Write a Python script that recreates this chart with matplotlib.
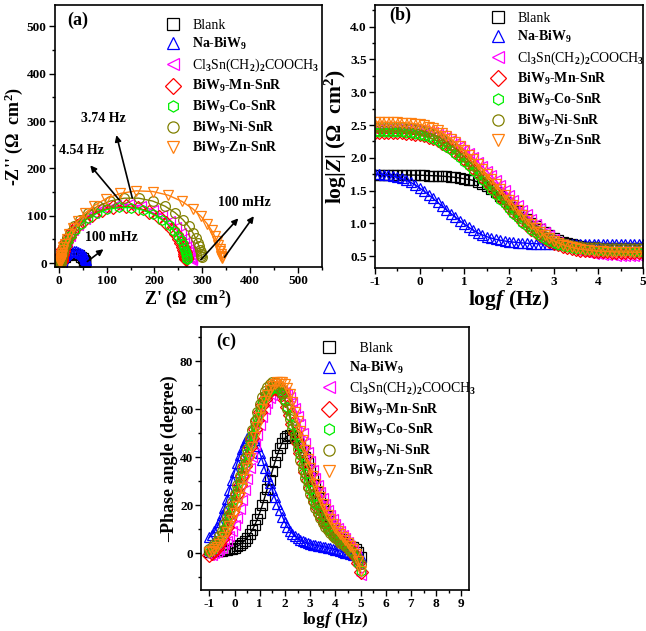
import matplotlib
matplotlib.use('Agg')
import matplotlib.pyplot as plt
from matplotlib.lines import Line2D
from matplotlib.ticker import MultipleLocator, FormatStrFormatter

plt.rcParams['font.family'] = 'serif'
plt.rcParams['font.serif'] = ['Liberation Serif', 'DejaVu Serif']
plt.rcParams['font.weight'] = 'bold'
plt.rcParams['axes.labelweight'] = 'bold'
plt.rcParams['axes.unicode_minus'] = False
plt.rcParams['mathtext.fontset'] = 'custom'
plt.rcParams['mathtext.rm'] = 'Liberation Serif'
plt.rcParams['mathtext.it'] = 'Liberation Serif:italic'
plt.rcParams['mathtext.bf'] = 'Liberation Serif:bold'
plt.rcParams['mathtext.bfit'] = 'Liberation Serif:italic:bold'

# series
labels = ['Blank', r'Na-BiW$_\mathbf{9}$', r'Cl$_3$Sn(CH$_2$)$_2$COOCH$_3$',
          r'BiW$_\mathbf{9}$-Mn-SnR', r'BiW$_\mathbf{9}$-Co-SnR',
          r'BiW$_\mathbf{9}$-Ni-SnR', r'BiW$_\mathbf{9}$-Zn-SnR']
bold = [False, True, False, True, True, True, True]
markers = ['s', '^', '<', 'D', 'h', 'o', 'v']
colors = ['black', '#0000ff', '#ff00ff', '#ff0000', '#00ee00', '#808000', '#ff7f0e']

# log f (Hz), 100 mHz .. 100 kHz
logf = [-1.0, -0.9, -0.8, -0.7, -0.6, -0.5, -0.4, -0.3, -0.2, -0.1,
        0.0, 0.1, 0.2, 0.3, 0.4, 0.5, 0.6, 0.7, 0.8, 0.9,
        1.0, 1.1, 1.2, 1.3, 1.4, 1.5, 1.6, 1.7, 1.8, 1.9,
        2.0, 2.1, 2.2, 2.3, 2.4, 2.5, 2.6, 2.7, 2.8, 2.9,
        3.0, 3.1, 3.2, 3.3, 3.4, 3.5, 3.6, 3.7, 3.8, 3.9,
        4.0, 4.1, 4.2, 4.3, 4.4, 4.5, 4.6, 4.7, 4.8, 4.9, 5.0]

# Bode: log|Z|
logz_blank = [1.745, 1.744, 1.743, 1.742, 1.741, 1.740, 1.739, 1.738, 1.737, 1.736,
              1.734, 1.732, 1.730, 1.727, 1.724, 1.720, 1.715, 1.709, 1.701, 1.692,
              1.681, 1.669, 1.655, 1.630, 1.600, 1.563, 1.520, 1.472, 1.420, 1.366,
              1.310, 1.251, 1.191, 1.131, 1.071, 1.013, 0.960, 0.909, 0.862, 0.819,
              0.781, 0.749, 0.722, 0.699, 0.680, 0.666, 0.655, 0.647, 0.640, 0.635,
              0.631, 0.628, 0.626, 0.624, 0.623, 0.622, 0.621, 0.621, 0.620, 0.620, 0.620]
logz_na = [1.755, 1.750, 1.743, 1.734, 1.722, 1.706, 1.685, 1.658, 1.625, 1.586,
           1.541, 1.491, 1.437, 1.380, 1.322, 1.263, 1.205, 1.149, 1.094, 1.040,
           0.988, 0.940, 0.895, 0.857, 0.825, 0.798, 0.776, 0.758, 0.744, 0.732,
           0.722, 0.714, 0.707, 0.702, 0.697, 0.693, 0.690, 0.687, 0.685, 0.683,
           0.682, 0.681, 0.681, 0.680, 0.680, 0.680, 0.680, 0.680, 0.680, 0.680,
           0.680, 0.680, 0.680, 0.680, 0.680, 0.680, 0.680, 0.680, 0.680, 0.680, 0.680]
logz_cl = [2.445, 2.445, 2.445, 2.444, 2.444, 2.443, 2.442, 2.440, 2.437, 2.433,
           2.427, 2.418, 2.406, 2.390, 2.369, 2.343, 2.311, 2.273, 2.229, 2.180,
           2.126, 2.068, 2.006, 1.941, 1.873, 1.803, 1.731, 1.658, 1.584, 1.509,
           1.434, 1.359, 1.284, 1.210, 1.137, 1.066, 0.998, 0.933, 0.872, 0.816,
           0.766, 0.722, 0.684, 0.651, 0.623, 0.599, 0.579, 0.562, 0.548, 0.537,
           0.528, 0.521, 0.515, 0.511, 0.508, 0.506, 0.504, 0.503, 0.502, 0.501, 0.500]
logz_mn = [2.380, 2.380, 2.379, 2.379, 2.378, 2.376, 2.373, 2.369, 2.363, 2.355,
           2.344, 2.329, 2.309, 2.284, 2.254, 2.218, 2.177, 2.130, 2.078, 2.021,
           1.960, 1.895, 1.827, 1.757, 1.685, 1.611, 1.536, 1.461, 1.386, 1.311,
           1.237, 1.165, 1.095, 1.028, 0.965, 0.906, 0.852, 0.803, 0.760, 0.722,
           0.690, 0.663, 0.641, 0.623, 0.608, 0.596, 0.586, 0.578, 0.572, 0.567,
           0.563, 0.560, 0.557, 0.555, 0.554, 0.553, 0.552, 0.551, 0.550, 0.550, 0.550]
logz_co = [2.400, 2.400, 2.399, 2.398, 2.396, 2.394, 2.390, 2.385, 2.378, 2.368,
           2.354, 2.336, 2.313, 2.285, 2.251, 2.212, 2.167, 2.117, 2.062, 2.003,
           1.940, 1.874, 1.805, 1.734, 1.661, 1.587, 1.512, 1.437, 1.362, 1.288,
           1.215, 1.145, 1.077, 1.013, 0.953, 0.898, 0.848, 0.803, 0.763, 0.729,
           0.700, 0.676, 0.656, 0.640, 0.627, 0.616, 0.607, 0.600, 0.594, 0.589,
           0.585, 0.582, 0.579, 0.577, 0.575, 0.574, 0.573, 0.572, 0.571, 0.570, 0.570]
logz_ni = [2.475, 2.475, 2.474, 2.473, 2.471, 2.469, 2.465, 2.460, 2.453, 2.443,
           2.429, 2.411, 2.388, 2.360, 2.326, 2.286, 2.241, 2.190, 2.134, 2.074,
           2.010, 1.943, 1.873, 1.801, 1.727, 1.652, 1.576, 1.500, 1.424, 1.349,
           1.275, 1.203, 1.134, 1.068, 1.006, 0.949, 0.897, 0.850, 0.809, 0.774,
           0.744, 0.719, 0.698, 0.681, 0.667, 0.656, 0.648, 0.642, 0.638, 0.635,
           0.633, 0.632, 0.631, 0.631, 0.630, 0.630, 0.630, 0.630, 0.630, 0.630, 0.630]
logz_zn = [2.545, 2.545, 2.544, 2.543, 2.542, 2.540, 2.537, 2.533, 2.527, 2.519,
           2.508, 2.493, 2.473, 2.448, 2.417, 2.380, 2.337, 2.288, 2.234, 2.175,
           2.112, 2.045, 1.975, 1.903, 1.829, 1.753, 1.676, 1.598, 1.519, 1.440,
           1.361, 1.283, 1.206, 1.131, 1.059, 0.991, 0.928, 0.870, 0.818, 0.773,
           0.734, 0.701, 0.674, 0.652, 0.634, 0.619, 0.607, 0.597, 0.589, 0.582,
           0.577, 0.573, 0.570, 0.567, 0.565, 0.563, 0.562, 0.561, 0.560, 0.560, 0.560]

# Bode: -phase (degree)
ph_blank = [0.5, 0.6, 0.7, 0.8, 0.9, 1.0, 1.2, 1.4, 1.6, 1.9,
            2.3, 2.8, 3.4, 4.2, 5.2, 6.4, 7.8, 9.5, 11.6, 14.0,
            16.8, 19.9, 23.3, 26.9, 30.6, 34.3, 37.8, 41.0, 43.8, 46.1,
            47.8, 48.9, 49.4, 49.2, 48.4, 47.0, 45.1, 42.8, 40.2, 37.4,
            34.5, 31.5, 28.5, 25.6, 22.8, 20.1, 17.6, 15.3, 13.2, 11.3,
            9.6, 8.1, 6.8, 5.7, 4.7, 3.9, 3.1, 2.4, 1.6, 0.4, -1.8]
ph_na = [6.5, 7.6, 9.0, 10.8, 13.0, 15.8, 19.0, 22.6, 26.5, 30.5,
         34.0, 37.5, 40.7, 43.6, 46.2, 48.2, 49.0, 48.6, 47.0, 44.6,
         41.8, 38.7, 35.4, 32.2, 29.1, 26.3, 23.2, 20.4, 17.8, 15.2,
         12.9, 11.0, 9.4, 8.1, 7.0, 6.2, 5.5, 5.0, 4.5, 4.1,
         3.8, 3.5, 3.3, 3.1, 2.9, 2.7, 2.5, 2.2, 2.0, 1.7,
         1.4, 1.1, 0.8, 0.5, 0.2, -0.1, -0.4, -0.7, -1.0, -1.4, -1.8]
ph_cl = [-1.0, -0.6, -0.1, 0.5, 1.3, 2.3, 3.6, 5.1, 7.0, 9.2,
         11.8, 14.8, 18.2, 22.0, 26.2, 30.7, 35.4, 40.2, 44.9, 49.3,
         53.3, 56.9, 60.0, 62.6, 64.6, 66.1, 67.1, 67.6, 67.7, 67.5,
         67.0, 66.2, 64.9, 63.0, 60.4, 57.3, 53.8, 50.0, 46.1, 42.2,
         38.4, 34.8, 31.4, 28.3, 25.4, 22.8, 20.3, 18.0, 15.9, 14.0,
         12.2, 10.6, 9.1, 7.6, 6.1, 4.6, 3.0, 1.2, -1.2, -4.5, -9.0]
ph_mn = [-0.8, 0.0, 1.0, 2.3, 3.9, 5.9, 8.3, 11.0, 14.0, 17.3,
         20.8, 24.5, 28.3, 32.2, 36.2, 40.2, 44.2, 48.1, 51.9, 55.5,
         58.8, 61.8, 64.3, 66.3, 67.8, 68.7, 69.0, 68.8, 67.9, 66.3,
         64.0, 61.1, 57.7, 53.9, 49.9, 45.8, 41.7, 37.7, 33.9, 30.3,
         27.0, 24.0, 21.2, 18.7, 16.4, 14.4, 12.6, 11.0, 9.6, 8.3,
         7.2, 6.2, 5.2, 4.3, 3.4, 2.4, 1.3, 0.0, -1.8, -4.3, -8.0]
ph_co = [0.5, 1.3, 2.4, 3.8, 5.6, 7.7, 10.2, 13.0, 16.0, 19.3,
         22.7, 26.3, 30.0, 33.8, 37.7, 41.6, 45.5, 49.3, 53.0, 56.5,
         59.7, 62.6, 65.0, 66.9, 68.2, 69.0, 69.2, 68.9, 67.9, 66.2,
         63.8, 60.8, 57.3, 53.4, 49.3, 45.1, 40.9, 36.9, 33.1, 29.5,
         26.2, 23.2, 20.4, 17.9, 15.7, 13.7, 12.0, 10.4, 9.1, 7.9,
         6.8, 5.8, 4.9, 4.0, 3.1, 2.2, 1.2, 0.0, -1.6, -4.0, -7.5]
ph_ni = [1.5, 2.4, 3.6, 5.2, 7.1, 9.4, 12.0, 14.9, 18.0, 21.3,
         24.8, 28.4, 32.1, 35.9, 39.7, 43.6, 47.5, 51.4, 55.2, 58.8,
         62.1, 65.0, 67.4, 69.3, 70.6, 71.3, 71.4, 70.8, 69.0, 66.7,
         63.6, 60.0, 56.0, 51.8, 47.5, 43.2, 39.0, 35.0, 31.2, 27.7,
         24.5, 21.6, 19.0, 16.6, 14.5, 12.6, 11.0, 9.6, 8.3, 7.2,
         6.2, 5.3, 4.4, 3.6, 2.8, 2.0, 1.0, -0.1, -1.4, -2.8, -4.5]
ph_zn = [0.5, 1.0, 1.7, 2.6, 3.7, 5.1, 6.8, 8.8, 11.1, 13.7,
         16.6, 19.8, 23.3, 27.1, 31.1, 35.3, 39.7, 44.1, 48.5, 52.7,
         56.6, 60.2, 63.3, 65.9, 68.0, 69.6, 70.7, 71.3, 71.5, 71.2,
         70.5, 69.0, 66.5, 63.0, 59.0, 55.0, 51.0, 47.0, 43.0, 39.2,
         35.6, 32.2, 29.0, 26.0, 23.2, 20.6, 18.2, 16.0, 14.0, 12.2,
         10.6, 9.1, 7.8, 6.5, 5.3, 4.1, 2.9, 1.5, -0.5, -3.5, -7.5]

# Nyquist: Z' and -Z'' (ohm cm2)
zr_blank = [55.3, 55.1, 55.0, 54.7, 54.2, 53.5, 52.2, 50.1, 46.6, 41.2, 33.9,
            25.8, 18.5, 13.1, 9.6, 7.5, 6.2, 5.5, 5.0, 4.7, 4.6]
zi_blank = [0.9, 1.3, 1.9, 2.7, 3.8, 5.5, 7.7, 10.6, 14.0, 17.4, 19.7,
            19.7, 17.4, 14.0, 10.6, 7.7, 5.5, 3.8, 2.7, 1.9, 1.3]
zr_na = [56.2, 55.7, 55.1, 54.1, 52.7, 50.8, 48.3, 45.1, 41.0, 36.5,
         31.5, 26.5, 22.0, 17.9, 14.7, 12.2, 10.3, 8.9, 7.9, 7.3,
         6.8, 6.5, 6.3, 6.1, 6.0, 5.9, 5.9, 5.9, 5.8, 5.8,
         5.8, 5.8, 5.8, 5.8, 5.8, 5.8]
zi_na = [7.1, 8.6, 10.3, 12.3, 14.5, 16.9, 19.4, 21.8, 23.9, 25.2,
         25.7, 25.2, 23.9, 21.8, 19.4, 16.9, 14.5, 12.3, 10.3, 8.6,
         7.1, 5.9, 4.9, 4.0, 3.3, 2.7, 2.2, 1.8, 1.5, 1.3,
         1.0, 0.8, 0.7, 0.5, 0.4, 0.3]
zr_cl = [278.0, 277.7, 277.4, 276.9, 276.2, 275.3, 274.0, 272.2, 269.8, 266.3,
         261.5, 254.7, 245.5, 232.9, 216.6, 196.4, 172.5, 146.3, 119.6, 94.6,
         72.9, 55.0, 41.0, 30.5, 22.8, 17.2, 13.3, 10.5, 8.4, 7.0,
         5.9, 5.2, 4.6, 4.2, 3.9, 3.6, 3.5, 3.3, 3.2, 3.1, 3.1]
zi_cl = [7.3, 8.9, 11.0, 13.5, 16.6, 20.3, 24.8, 30.3, 36.9, 44.8,
         54.1, 64.7, 76.5, 89.2, 101.6, 112.4, 120.4, 123.9, 122.4, 116.1,
         106.2, 94.2, 81.6, 69.4, 58.1, 48.3, 39.9, 32.8, 26.9, 22.0,
         18.0, 14.6, 11.9, 9.7, 7.9, 6.4, 5.2, 4.2, 3.4, 2.8, 2.3]
zr_mn = [266.0, 265.7, 265.3, 264.7, 263.9, 262.8, 261.3, 259.1, 256.0, 251.5,
         245.3, 236.6, 224.7, 209.1, 189.4, 166.0, 140.3, 114.1, 89.5, 68.4,
         51.1, 37.8, 28.0, 20.9, 15.8, 12.2, 9.7, 7.9, 6.7, 5.8,
         5.1, 4.7, 4.3, 4.0, 3.8, 3.7, 3.6, 3.5, 3.4, 3.4, 3.3]
zi_mn = [8.0, 9.9, 12.1, 15.0, 18.5, 22.7, 28.0, 34.3, 41.8, 50.8,
         61.1, 72.7, 85.1, 97.4, 108.4, 116.3, 119.9, 118.3, 111.9, 102.0,
         89.9, 77.5, 65.5, 54.6, 45.1, 37.1, 30.3, 24.7, 20.1, 16.3,
         13.2, 10.7, 8.7, 7.0, 5.7, 4.6, 3.7, 3.0, 2.4, 1.9, 1.6]
zr_co = [268.8, 268.4, 268.0, 267.4, 266.5, 265.4, 263.9, 261.7, 258.7, 254.6,
         248.8, 240.9, 230.0, 215.9, 197.9, 176.2, 151.8, 126.2, 101.5, 79.1,
         60.4, 45.5, 34.1, 25.6, 19.4, 15.0, 11.8, 9.5, 7.9, 6.7,
         5.8, 5.1, 4.6, 4.3, 4.0, 3.8, 3.7, 3.5, 3.4, 3.3, 3.3]
zi_co = [7.8, 9.6, 11.9, 14.6, 17.9, 21.9, 26.7, 32.6, 39.6, 47.9,
         57.5, 68.3, 80.1, 92.0, 103.2, 112.0, 117.1, 117.6, 113.4, 105.1,
         94.4, 82.5, 70.7, 59.6, 49.7, 41.1, 33.9, 27.8, 22.8, 18.6,
         15.2, 12.4, 10.1, 8.2, 6.7, 5.5, 4.6, 3.6, 2.9, 2.4, 1.9]
zr_ni = [298.6, 298.1, 297.4, 296.5, 295.1, 293.1, 290.2, 286.0, 280.0, 271.4,
         259.4, 243.1, 222.0, 196.3, 167.1, 136.4, 107.2, 81.5, 60.4, 44.1,
         32.1, 23.5, 17.5, 13.3, 10.4, 8.4, 7.1, 6.1, 5.4, 4.9,
         4.6, 4.3, 4.1, 4.0, 3.9, 3.8, 3.7, 3.7, 3.6, 3.6, 3.5]
zi_ni = [12.2, 15.1, 18.7, 23.2, 28.6, 35.3, 43.4, 53.1, 64.5, 77.5,
         91.8, 106.6, 120.3, 131.1, 137.2, 137.2, 131.1, 120.3, 106.6, 91.8,
         77.5, 64.5, 53.1, 43.4, 35.3, 28.6, 23.2, 18.7, 15.1, 12.2,
         9.8, 7.9, 6.4, 5.1, 4.2, 3.3, 2.6, 2.0, 1.5, 1.1, 0.8]
zr_zn = [340.6, 340.2, 339.6, 338.7, 337.6, 336.0, 333.7, 330.5, 325.8, 319.3,
         310.0, 297.1, 279.6, 256.8, 228.7, 196.5, 162.2, 128.8, 98.8, 73.9,
         54.4, 39.7, 29.1, 21.5, 16.2, 12.5, 9.8, 8.0, 6.7, 5.7,
         5.1, 4.6, 4.2, 3.9, 3.7, 3.5, 3.4, 3.3, 3.2, 3.2, 3.1]
zi_zn = [10.5, 13.1, 16.2, 20.1, 24.8, 30.7, 37.8, 46.5, 56.9, 69.2,
         83.2, 98.8, 115.2, 130.7, 143.5, 151.3, 152.7, 147.3, 136.2, 121.6,
         105.4, 89.4, 74.6, 61.6, 50.4, 41.1, 33.3, 27.1, 21.8, 17.7,
         14.2, 11.5, 9.2, 7.4, 6.0, 4.8, 3.9, 3.1, 2.5, 2.0, 1.6]

nyq_x = [zr_blank, zr_na, zr_cl, zr_mn, zr_co, zr_ni, zr_zn]
nyq_y = [zi_blank, zi_na, zi_cl, zi_mn, zi_co, zi_ni, zi_zn]
bode_z = [logz_blank, logz_na, logz_cl, logz_mn, logz_co, logz_ni, logz_zn]
bode_p = [ph_blank, ph_na, ph_cl, ph_mn, ph_co, ph_ni, ph_zn]


def draw(ax, xs, ys, ms):
    for x, y, m, c, lab in zip(xs, ys, markers, colors, labels):
        ax.plot(x, y, marker=m, color=c, mfc='none', mec=c, ms=ms, mew=0.9,
                lw=1.0, label=lab)


def style(ax, pad=2):
    for s in ax.spines.values():
        s.set_linewidth(1.2)
    ax.tick_params(which='both', direction='out', top=False, right=False,
                   labelsize=9.5, width=1.0, pad=pad)
    ax.tick_params(which='major', length=4)
    ax.tick_params(which='minor', length=2.5)


def add_legend(ax, x0, y0, names):
    handles = [Line2D([], [], ls='none', marker=m, mfc='none', mec=c, ms=7, mew=0.9)
               for m, c in zip(markers, colors)]
    leg = ax.legend(handles, names, loc='upper left', bbox_to_anchor=(x0, y0),
                    frameon=False, fontsize=10, handlelength=1.0, handletextpad=0.9,
                    labelspacing=0.32, borderaxespad=0, borderpad=0, markerscale=1.15)
    for t, b in zip(leg.get_texts(), bold):
        t.set_fontweight('bold' if b else 'normal')


fig = plt.figure(figsize=(6.46, 6.31), dpi=100)

# (a) Nyquist
ax1 = fig.add_axes([0.0851, 0.5769, 0.4133, 0.4152])
draw(ax1, nyq_x, nyq_y, 7)
ax1.set_xlim(-8, 550)
ax1.set_ylim(-8, 545)
ax1.xaxis.set_major_locator(MultipleLocator(100))
ax1.xaxis.set_minor_locator(MultipleLocator(50))
ax1.yaxis.set_major_locator(MultipleLocator(100))
ax1.yaxis.set_minor_locator(MultipleLocator(50))
ax1.set_xlabel(r"Z' (Ω  cm$^\mathbf{2}$)", fontsize=13, labelpad=0)
ax1.set_ylabel(r"-Z'' (Ω  cm$^\mathbf{2}$)", fontsize=13, labelpad=1)
style(ax1)
add_legend(ax1, 0.415, 0.948, labels)
ax1.text(0.086, 0.943, '(a)', transform=ax1.transAxes, fontsize=13,
         ha='center', va='center')
arrow = dict(arrowstyle='-|>', color='black', lw=1.2, mutation_scale=9)
ax1.annotate('', xy=(119, 276), xytext=(155, 132), arrowprops=arrow)
ax1.annotate('', xy=(62, 211), xytext=(130, 129), arrowprops=arrow)
ax1.annotate('', xy=(98, 33), xytext=(55, 0), arrowprops=arrow)
ax1.annotate('', xy=(379, 99), xytext=(293, 3), arrowprops=arrow)
ax1.annotate('', xy=(411, 104), xytext=(343, 8), arrowprops=arrow)
ax1.text(93, 306, '3.74 Hz', fontsize=10, ha='center', va='center')
ax1.text(48, 237, '4.54 Hz', fontsize=10, ha='center', va='center')
ax1.text(110, 54, '100 mHz', fontsize=10, ha='center', va='center')
ax1.text(388, 129, '100 mHz', fontsize=10, ha='center', va='center')

# (b) Bode modulus
ax2 = fig.add_axes([0.5805, 0.5753, 0.4149, 0.4168])
draw(ax2, [logf] * 7, bode_z, 6.5)
ax2.set_xlim(-1, 5)
ax2.set_ylim(0.32, 4.33)
ax2.xaxis.set_major_locator(MultipleLocator(1))
ax2.xaxis.set_minor_locator(MultipleLocator(0.5))
ax2.yaxis.set_major_locator(MultipleLocator(0.5))
ax2.yaxis.set_minor_locator(MultipleLocator(0.25))
ax2.yaxis.set_major_formatter(FormatStrFormatter('%.1f'))
ax2.set_xlabel(r"log$\mathbfit{f}$ (Hz)", fontsize=15.5, labelpad=0)
ax2.set_ylabel(r"log|$\mathbfit{Z}$| (Ω  cm$^\mathbf{2}$)", fontsize=15.5, labelpad=1)
style(ax2)
add_legend(ax2, 0.433, 0.975, labels)
ax2.text(0.093, 0.962, '(b)', transform=ax2.transAxes, fontsize=13,
         ha='center', va='center')

# (c) Bode phase
ax3 = fig.add_axes([0.3111, 0.0650, 0.4149, 0.4168])
draw(ax3, [logf] * 7, bode_p, 7)
ax3.set_xlim(-1.33, 9.3)
ax3.set_ylim(-15.4, 94.3)
ax3.xaxis.set_major_locator(MultipleLocator(1))
ax3.xaxis.set_minor_locator(MultipleLocator(0.5))
ax3.yaxis.set_major_locator(MultipleLocator(20))
ax3.yaxis.set_minor_locator(MultipleLocator(10))
ax3.set_xlabel(r"log$\mathbfit{f}$ (Hz)", fontsize=12.5, labelpad=0)
ax3.set_ylabel("–Phase angle (degree)", fontsize=13, labelpad=1)
style(ax3, pad=1.5)
add_legend(ax3, 0.452, 0.943, ['   Blank'] + labels[1:])
ax3.text(0.096, 0.945, '(c)', transform=ax3.transAxes, fontsize=13,
         ha='center', va='center')

fig.savefig('out.png', dpi=100)
